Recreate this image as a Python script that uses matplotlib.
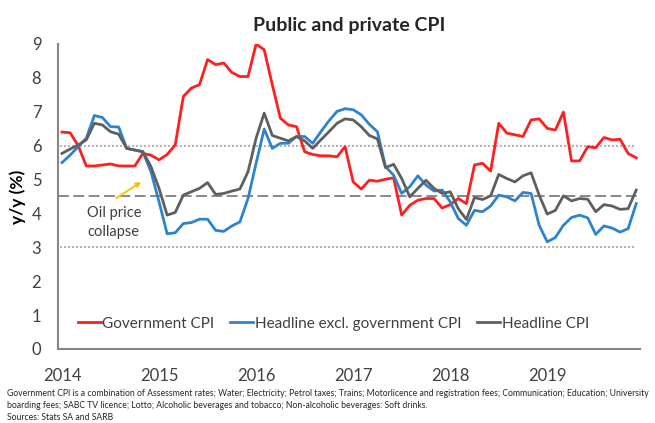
import numpy as np
import matplotlib
matplotlib.use("Agg")
import matplotlib.pyplot as plt

plt.rcParams['font.family'] = ['Lato', 'DejaVu Sans']

# monthly y/y inflation, Jan 2014 - Dec 2019
years = ['2014', '2015', '2016', '2017', '2018', '2019']

government_cpi = [
    6.4, 6.38, 6.0, 5.4, 5.4, 5.43, 5.46, 5.4, 5.4, 5.4, 5.77, 5.72,
    5.58, 5.74, 6.02, 7.45, 7.7, 7.8, 8.54, 8.39, 8.44, 8.16, 8.04, 8.04,
    9.0, 8.83, 7.8, 6.81, 6.61, 6.56, 5.82, 5.74, 5.7, 5.7, 5.67, 5.97,
    4.93, 4.72, 4.98, 4.95, 5.01, 5.05, 3.95, 4.24, 4.39, 4.44, 4.44, 4.16,
    4.26, 4.44, 4.29, 5.43, 5.48, 5.25, 6.66, 6.37, 6.32, 6.27, 6.76, 6.79,
    6.51, 6.46, 6.99, 5.55, 5.55, 5.97, 5.94, 6.24, 6.17, 6.19, 5.77, 5.64,
]

headline_excl_gov = [
    5.5, 5.72, 5.97, 6.22, 6.89, 6.83, 6.56, 6.55, 5.92, 5.87, 5.82, 5.23,
    4.34, 3.4, 3.43, 3.7, 3.73, 3.83, 3.83, 3.5, 3.47, 3.63, 3.75, 4.44,
    5.48, 6.49, 5.92, 6.07, 6.07, 6.27, 6.27, 6.07, 6.41, 6.73, 7.01, 7.09,
    7.06, 6.91, 6.63, 6.41, 5.38, 5.13, 4.59, 4.79, 5.11, 4.84, 4.66, 4.69,
    4.34, 3.85, 3.65, 4.09, 4.05, 4.22, 4.54, 4.49, 4.37, 4.62, 4.59, 3.65,
    3.16, 3.29, 3.65, 3.88, 3.95, 3.87, 3.38, 3.63, 3.57, 3.45, 3.55, 4.29,
]

headline_cpi = [
    5.77, 5.9, 6.02, 6.17, 6.66, 6.61, 6.41, 6.34, 5.92, 5.87, 5.82, 5.38,
    4.74, 3.95, 4.03, 4.54, 4.64, 4.74, 4.91, 4.56, 4.59, 4.66, 4.72, 5.23,
    6.22, 6.96, 6.3, 6.22, 6.14, 6.27, 6.14, 5.92, 6.17, 6.41, 6.66, 6.79,
    6.76, 6.56, 6.3, 6.2, 5.35, 5.45, 5.03, 4.49, 4.74, 4.98, 4.74, 4.59,
    4.64, 4.14, 3.82, 4.47, 4.41, 4.52, 5.15, 5.03, 4.93, 5.11, 5.2, 4.54,
    3.98, 4.09, 4.52, 4.37, 4.44, 4.42, 4.05, 4.26, 4.22, 4.12, 4.14, 4.69,
]

target_band = [3, 6]
target_mid = 4.5

footnote = (
    "Government CPI is a combination of Assessment rates; Water; Electricity; Petrol taxes; "
    "Trains; Motorlicence and registration fees; Communication; Education; University\n"
    "boarding fees; SABC TV licence; Lotto; Alcoholic beverages and tobacco; "
    "Non-alcoholic beverages: Soft drinks.\n"
    "Sources: Stats SA and SARB"
)

months = np.arange(len(government_cpi))
text_col = '#404040'

fig = plt.figure(figsize=(6.55, 4.23), dpi=100)
ax = fig.add_axes([0.0885, 0.175, 0.889, 0.721])

# inflation target band and midpoint
for lvl in target_band:
    ax.plot([months[0] - 0.3, months[-1]], [lvl, lvl], color='#a6a6a6',
            lw=1.2, ls=(0, (1.2, 1.2)), zorder=1)
ax.plot([months[0] - 0.5, months[-1] + 0.2], [target_mid, target_mid],
        color='#7f7f7f', lw=1.3, ls=(0, (6, 2.5)), zorder=1)

ax.plot(months, government_cpi, color='#ff1f1f', lw=2.0, label='Government CPI', zorder=3)
ax.plot(months, headline_excl_gov, color='#2e83cf', lw=2.0,
        label='Headline excl. government CPI', zorder=3)
ax.plot(months, headline_cpi, color='#5f5f5f', lw=2.0, label='Headline CPI', zorder=4)

ax.annotate('', xy=(9.8, 4.93), xytext=(6.7, 4.45),
            arrowprops=dict(arrowstyle='-|>', color='#ffc000', lw=1.4,
                            mutation_scale=7, shrinkA=0, shrinkB=0))
ax.text(6.4, 3.74, 'Oil price\ncollapse', ha='center', va='center',
        fontsize=10.5, color=text_col, linespacing=1.45)

ax.set_xlim(-0.5, 71.5)
ax.set_ylim(0, 9)
ax.set_yticks(range(0, 10))
ax.set_xticks(months[::12])
ax.set_xticklabels(years)
ax.tick_params(axis='both', length=0, labelsize=12, colors=text_col)
ax.tick_params(axis='x', pad=14)
ax.tick_params(axis='y', pad=12)

for side in ['top', 'right']:
    ax.spines[side].set_visible(False)
for side in ['left', 'bottom']:
    ax.spines[side].set_color('#868686')
    ax.spines[side].set_linewidth(1.5)

ax.set_ylabel('y/y (%)', fontsize=12.5, fontweight='bold', color='black', labelpad=4)
ax.set_title('Public and private CPI', fontsize=14, fontweight='bold', color='#262626', pad=9)

ax.legend(loc='lower center', bbox_to_anchor=(0.473, 0.015), ncol=3, frameon=False,
          fontsize=11, handlelength=1.5, handletextpad=0.1, columnspacing=1.05,
          labelcolor=text_col)

fig.text(0.011, 0.081, footnote, fontsize=6.2, color='#262626', va='top',
         ha='left', linespacing=1.42)

fig.savefig('out.png', dpi=100)
